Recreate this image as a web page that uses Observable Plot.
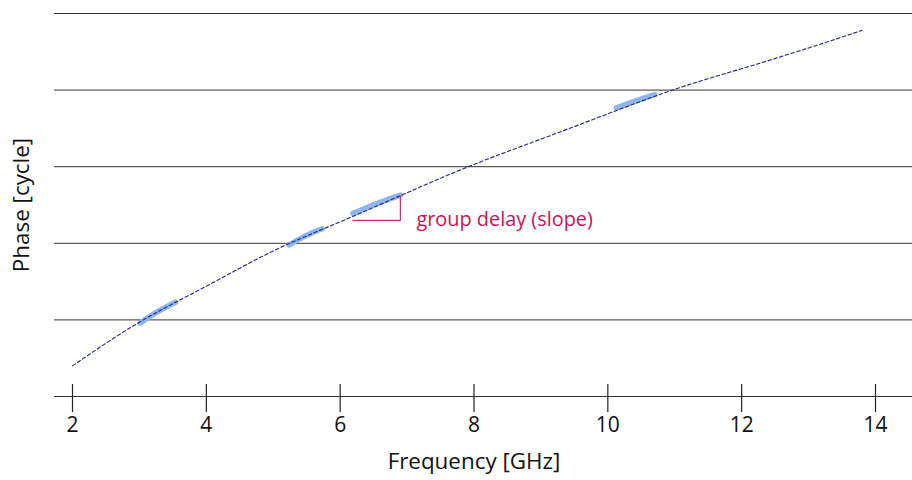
<!DOCTYPE html>
<html>
<head>
<meta charset="utf-8">
<script src="https://cdn.jsdelivr.net/npm/d3@7"></script>
<script src="https://cdn.jsdelivr.net/npm/@observablehq/plot@0.6"></script>
<style>
  html, body { margin: 0; padding: 0; background: #fff; }
  #chart svg { display: block; }
</style>
</head>
<body>
<div id="chart"></div>
<script>
// Phase curve (dashed)
const curveFreq  = [2, 3, 4, 5, 6, 7, 8, 9, 10, 11, 12, 13, 13.8];
const curvePhase = [0.40, 0.97, 1.44, 1.90, 2.28, 2.66, 3.03, 3.36, 3.69, 4.01, 4.28, 4.55, 4.78];

// Measured segments (thick light blue), 3 points each: id, freq, phase
const segId    = [1, 1, 1, 2, 2, 2, 3, 3, 3, 4, 4, 4];
const segFreq  = [3.01, 3.28, 3.54, 5.24, 5.49, 5.73, 6.19, 6.55, 6.90, 10.13, 10.42, 10.70];
const segPhase = [0.96, 1.11, 1.23, 1.98, 2.10, 2.19, 2.39, 2.52, 2.63, 3.77, 3.86, 3.94];

// Slope triangle for group delay
const triFreq  = [6.19, 6.90, 6.90];
const triPhase = [2.30, 2.30, 2.62];
const annotation = "group delay (slope)";

const xTicks = [2, 4, 6, 8, 10, 12, 14];
const gridLevels = [0, 1, 2, 3, 4, 5];
const xLabel = "Frequency [GHz]";
const yLabel = "Phase [cycle]";

const curve = curveFreq.map((f, i) => ({f, p: curvePhase[i]}));
const segs = segFreq.map((f, i) => ({id: segId[i], f, p: segPhase[i]}));
const tri = triFreq.map((f, i) => ({f, p: triPhase[i]}));

const font = "'Open Sans', 'DejaVu Sans', sans-serif";

const chart = Plot.plot({
  width: 912,
  height: 480,
  marginLeft: 72,
  marginRight: 37,
  marginTop: 13,
  marginBottom: 84,
  style: {fontFamily: font, fontSize: "20px", color: "#111", background: "#fff"},
  x: {domain: [2, 14]},
  y: {domain: [0, 5], axis: null},
  marks: [
    Plot.ruleY(gridLevels, {y: d => d, stroke: "#333", strokeWidth: 1, insetLeft: -18, insetRight: -37}),
    Plot.axisX(xTicks, {tickSize: 28, dy: -12, tickPadding: 5, stroke: "#222", strokeWidth: 1.2, fontSize: 21, fill: "#111", label: null}),
    Plot.line(segs, {x: "f", y: "p", z: "id", stroke: "#8fb6ea", strokeWidth: 5.5, strokeLinecap: "round", curve: "natural"}),
    Plot.line(curve, {x: "f", y: "p", stroke: "#22229a", strokeWidth: 1.1, strokeDasharray: "3.5,2.5", curve: "natural"}),
    Plot.line(tri, {x: "f", y: "p", stroke: "#d0306a", strokeWidth: 1.2}),
    Plot.text([annotation], {x: triFreq[2], y: triPhase[0], text: d => d, dx: 16, dy: -1, textAnchor: "start", fill: "#cc1155", fontSize: 19.9}),
    Plot.text([xLabel], {frameAnchor: "bottom", dy: 72, text: d => d, fontSize: 22.4, fill: "#111"}),
    Plot.text([yLabel], {frameAnchor: "left", dx: -50.5, rotate: -90, textAnchor: "middle", text: d => d, fontSize: 22.4, fill: "#111"})
  ]
});
document.getElementById("chart").appendChild(chart);
</script>
</body>
</html>
